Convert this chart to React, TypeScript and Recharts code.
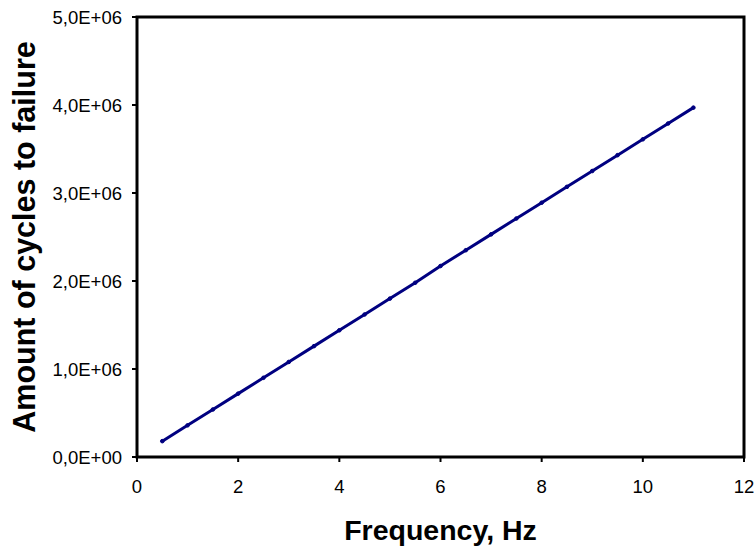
import { LineChart, Line, XAxis, YAxis, ReferenceArea, Label } from 'recharts'

const frequency = [0.5, 1, 1.5, 2, 2.5, 3, 3.5, 4, 4.5, 5, 5.5, 6, 6.5, 7, 7.5, 8, 8.5, 9, 9.5, 10, 10.5, 11]
const cycles = [
  0.18e6, 0.36e6, 0.54e6, 0.72e6, 0.9e6, 1.08e6, 1.26e6, 1.44e6, 1.62e6, 1.8e6, 1.98e6,
  2.17e6, 2.35e6, 2.53e6, 2.71e6, 2.89e6, 3.07e6, 3.25e6, 3.43e6, 3.61e6, 3.79e6, 3.97e6,
]
const xTicks = [0, 2, 4, 6, 8, 10, 12]
const yTicks = [0, 1e6, 2e6, 3e6, 4e6, 5e6]

const data = frequency.map((f, i) => ({ f, n: cycles[i] }))

const fmtY = (v: number) =>
  v === 0 ? '0,0E+00' : (v / 1e6).toFixed(1).replace('.', ',') + 'E+06'

const font = 'Arial, "Liberation Sans", sans-serif'

// custom ticks so the font size really sticks
const XTick = ({ x, y, payload }: any) => (
  <text x={x} y={y} dy={13} textAnchor="middle" fontSize={18.5} fill="#000" fontFamily={font}>
    {payload.value}
  </text>
)

const YTick = ({ x, y, payload }: any) => (
  <text x={x} y={y} dy={6.5} textAnchor="end" fontSize={18.5} fill="#000" fontFamily={font}>
    {fmtY(payload.value)}
  </text>
)

export default function App() {
  return (
    <div style={{ position: 'absolute', left: 0, top: 0, background: '#fff' }}>
      <LineChart
        width={756}
        height={548}
        data={data}
        margin={{ top: 17, right: 12, left: 0, bottom: 0 }}
        style={{ fontFamily: font }}
      >
        <XAxis
          dataKey="f"
          type="number"
          domain={[0, 12]}
          ticks={xTicks}
          stroke="#000"
          strokeWidth={2}
          tickSize={5}
          tickMargin={18}
          tick={<XTick />}
          height={91}
        >
          <Label
            value="Frequency, Hz"
            position="insideBottom"
            offset={8}
            style={{ fontSize: 28.5, fontWeight: 'bold', fill: '#000' }}
          />
        </XAxis>
        <YAxis
          type="number"
          domain={[0, 5e6]}
          ticks={yTicks}
          stroke="#000"
          strokeWidth={2}
          tickSize={5}
          tickMargin={10}
          tick={<YTick />}
          width={137}
        >
          <Label
            value="Amount of cycles to failure"
            angle={-90}
            position="insideLeft"
            offset={24}
            style={{ fontSize: 30.5, fontWeight: 'bold', fill: '#000', textAnchor: 'middle' }}
          />
        </YAxis>
        <ReferenceArea
          x1={0}
          x2={12}
          y1={0}
          y2={5e6}
          fill="none"
          stroke="#000"
          strokeWidth={3}
          ifOverflow="visible"
        />
        <Line
          type="linear"
          dataKey="n"
          stroke="#000080"
          strokeWidth={3}
          dot={{ r: 1.8, fill: '#000080', stroke: '#000080', strokeWidth: 1 }}
          isAnimationActive={false}
        />
      </LineChart>
    </div>
  )
}
